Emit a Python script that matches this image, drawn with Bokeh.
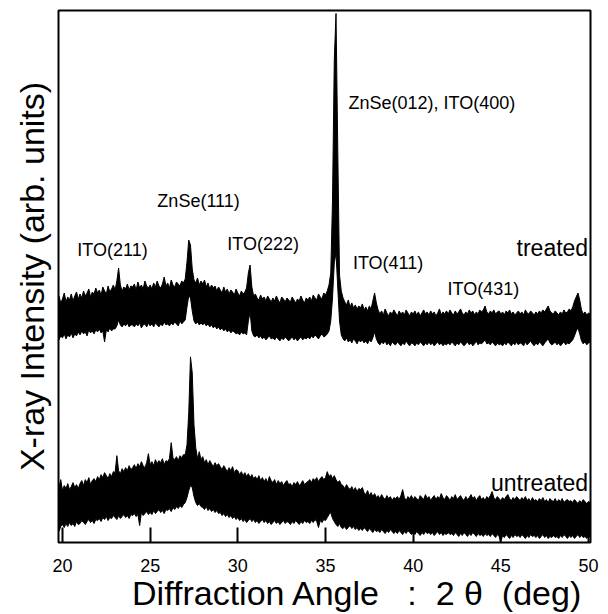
import numpy as np
from bokeh.plotting import figure
from bokeh.models import Range1d, FixedTicker, Label, ColumnDataSource
from bokeh.embed import file_html
from bokeh.resources import INLINE

# Scan grid (2theta, deg): uniform 0.1 deg steps from 19.8 to 50.1
SCAN_START = 19.8
SCAN_STEP = 0.1
N_POINTS = 304

# Intensities (arb. units), upper and lower edges of the noisy traces
treated_upper = [
    247, 240,
    244, 250, 241, 246, 243, 249, 242, 247, 251, 244,
    249, 245, 252, 247, 250, 254, 246, 251, 249, 255,
    250, 253, 248, 256, 252, 249, 257, 251, 254, 258,
    253, 262, 275, 258, 252, 256, 254, 259, 253, 257,
    256, 259, 253, 261, 255, 258, 254, 262, 257, 255,
    258, 254, 260, 256, 262, 257, 255, 259, 266, 257,
    260, 255, 263, 258, 256, 261, 259, 257, 262, 260,
    264, 281, 303, 298, 274, 263, 260, 265, 258, 262,
    259, 263, 256, 260, 254, 258, 255, 257, 252, 256,
    253, 250, 256, 251, 254, 249, 253, 251, 248, 254,
    250, 247, 252, 249, 251, 255, 270, 278, 256, 247,
    249, 245, 243, 248, 244, 246, 242, 247, 244, 241,
    245, 242, 247, 243, 240, 246, 244, 241, 245, 243,
    241, 246, 243, 240, 244, 242, 247, 243, 240, 245,
    243, 246, 242, 248, 245, 243, 249, 246, 244, 250,
    248, 252, 258, 270, 343, 483, 530, 393, 268, 252,
    245, 241, 238, 243, 236, 240, 235, 238, 234, 237,
    235, 239, 233, 236, 232, 237, 234, 242, 250, 240,
    233, 229, 232, 228, 234, 230, 227, 231, 229, 233,
    230, 227, 232, 229, 231, 228, 233, 230, 227, 231,
    229, 232, 228, 231, 227, 230, 233, 229, 231, 228,
    232, 229, 231, 227, 230, 234, 228, 231, 229, 232,
    229, 233, 230, 228, 232, 229, 231, 234, 230, 228,
    231, 229, 233, 230, 232, 228, 231, 229, 233, 231,
    233, 237, 231, 229, 232, 230, 233, 229, 231, 232,
    229, 231, 228, 232, 230, 233, 229, 231, 228, 230,
    232, 229, 231, 228, 233, 230, 229, 232, 230, 228,
    231, 229, 232, 230, 233, 231, 234, 237, 232, 230,
    229, 232, 230, 228, 231, 229, 233, 230, 231, 234,
    232, 236, 242, 246, 250, 243, 233, 229, 231, 228,
    230, 229,
]
treated_lower = [
    203, 207,
    205, 209, 204, 208, 206, 210, 205, 209, 207, 211,
    208, 212, 209, 211, 207, 213, 210, 212, 209, 213,
    211, 214, 210, 212, 201, 213, 211, 215, 212, 214,
    214, 217, 223, 218, 216, 219, 217, 220, 216, 218,
    218, 216, 219, 217, 220, 215, 218, 219, 216, 220,
    217, 219, 216, 220, 218, 216, 219, 217, 221, 218,
    219, 217, 220, 218, 221, 219, 217, 222, 219, 221,
    223, 236, 247, 245, 232, 222, 219, 221, 218, 220,
    218, 220, 217, 219, 216, 218, 215, 217, 214, 216,
    213, 215, 212, 214, 211, 213, 210, 212, 211, 209,
    210, 208, 211, 209, 210, 208, 222, 231, 212, 207,
    206, 208, 205, 207, 204, 206, 203, 205, 207, 204,
    205, 203, 206, 204, 202, 205, 203, 206, 204, 202,
    204, 206, 203, 205, 202, 204, 206, 203, 205, 204,
    206, 204, 207, 205, 208, 206, 204, 207, 209, 206,
    207, 209, 212, 222, 245, 280, 290, 255, 222, 208,
    204, 202, 205, 201, 203, 200, 204, 202, 199, 203,
    201, 203, 200, 202, 199, 203, 201, 205, 211, 204,
    200, 198, 201, 199, 202, 198, 200, 197, 201, 199,
    198, 201, 199, 197, 200, 198, 202, 199, 197, 200,
    199, 197, 200, 198, 201, 199, 197, 200, 198, 201,
    198, 200, 197, 199, 201, 198, 200, 197, 199, 198,
    200, 198, 201, 199, 197, 200, 198, 201, 199, 197,
    199, 201, 198, 200, 197, 199, 202, 198, 200, 199,
    201, 203, 199, 200, 198, 201, 199, 197, 200, 198,
    199, 197, 200, 198, 201, 199, 197, 200, 198, 201,
    198, 200, 199, 197, 201, 198, 200, 202, 199, 197,
    200, 198, 201, 199, 197, 200, 202, 204, 200, 198,
    199, 201, 198, 200, 197, 199, 201, 198, 200, 199,
    201, 203, 207, 212, 215, 209, 202, 199, 201, 198,
    200, 201,
]
untreated_upper = [
    55, 63,
    52, 57, 54, 59, 53, 56, 60, 55, 58, 54,
    59, 62, 57, 63, 60, 65, 58, 62, 64, 61,
    66, 63, 68, 65, 70, 67, 64, 69, 66, 71,
    70, 87, 72, 69, 74, 71, 75, 72, 77, 73,
    75, 78, 74, 79, 76, 81, 77, 75, 80, 89,
    78, 81, 77, 83, 79, 82, 80, 84, 78, 82,
    81, 84, 100, 85, 83, 86, 82, 87, 85, 88,
    88, 98, 130, 186, 170, 118, 95, 84, 91, 83,
    86, 80, 83, 78, 82, 79, 76, 80, 77, 79,
    76, 73, 77, 74, 71, 75, 72, 76, 70, 73,
    72, 68, 71, 67, 70, 66, 69, 65, 68, 64,
    66, 63, 67, 62, 65, 61, 64, 60, 66, 62,
    60, 63, 58, 62, 59, 61, 57, 60, 62, 58,
    59, 56, 60, 58, 61, 57, 59, 62, 58, 60,
    61, 63, 60, 64, 62, 65, 61, 64, 66, 63,
    65, 71, 66, 68, 64, 67, 63, 60, 62, 58,
    57, 54, 58, 55, 53, 56, 52, 55, 51, 54,
    53, 55, 50, 48, 52, 47, 50, 46, 49, 45,
    47, 44, 48, 45, 43, 47, 44, 46, 42, 45,
    44, 46, 43, 47, 53, 45, 42, 46, 44, 47,
    43, 46, 44, 42, 47, 45, 43, 48, 44, 46,
    42, 45, 47, 43, 46, 44, 49, 45, 43, 47,
    45, 42, 46, 44, 48, 43, 45, 47, 44, 42,
    46, 43, 45, 48, 44, 46, 42, 45, 47, 43,
    45, 42, 46, 44, 47, 51, 45, 43, 46, 44,
    42, 45, 43, 46, 48, 44, 42, 45, 43, 46,
    44, 42, 45, 43, 46, 42, 44, 41, 45, 42,
    43, 41, 44, 42, 45, 41, 43, 40, 44, 42,
    41, 44, 40, 43, 41, 44, 40, 42, 43, 41,
    42, 40, 43, 41, 39, 42, 40, 43, 41, 39,
    41, 40,
]
untreated_lower = [
    11, 16,
    18, 15, 19, 16, 20, 17, 19, 16, 21, 18,
    19, 22, 20, 18, 21, 23, 20, 22, 19, 23,
    22, 24, 21, 25, 23, 26, 22, 25, 24, 27,
    25, 23, 27, 24, 26, 28, 25, 27, 24, 28,
    27, 29, 26, 28, 17, 30, 27, 29, 31, 28,
    30, 28, 32, 29, 31, 33, 30, 32, 29, 33,
    32, 34, 31, 35, 33, 36, 34, 37, 35, 38,
    40, 45, 52, 57, 55, 46, 40, 37, 39, 36,
    35, 33, 36, 32, 34, 31, 33, 30, 32, 29,
    30, 27, 29, 26, 28, 25, 27, 24, 26, 23,
    25, 22, 24, 21, 23, 20, 22, 24, 21, 23,
    20, 22, 19, 21, 23, 20, 22, 19, 21, 18,
    20, 22, 19, 21, 18, 20, 22, 19, 21, 20,
    18, 21, 19, 22, 20, 18, 21, 19, 22, 20,
    21, 19, 22, 20, 23, 21, 15, 22, 20, 23,
    22, 25, 28, 30, 24, 21, 18, 16, 19, 15,
    14, 16, 13, 15, 17, 14, 16, 13, 15, 12,
    14, 12, 15, 13, 11, 14, 12, 10, 13, 11,
    12, 10, 13, 11, 9, 12, 10, 13, 11, 9,
    11, 9, 12, 10, 8, 11, 9, 12, 10, 8,
    10, 8, 11, 9, 7, 10, 8, 11, 9, 10,
    8, 10, 7, 9, 11, 8, 10, 7, 9, 8,
    10, 8, 9, 7, 10, 8, 6, 9, 7, 10,
    8, 6, 9, 7, 10, 8, 6, 9, 7, 8,
    6, 9, 7, 8, 6, 9, 7, 5, 8, 6,
    1, 7, 5, 8, 6, 4, 7, 5, 8, 6,
    7, 5, 8, 6, 4, 7, 5, 8, 6, 7,
    5, 7, 4, 6, 8, 5, 7, 4, 6, 5,
    7, 5, 6, 4, 7, 5, 8, 6, 4, 7,
    5, 7, 4, 6, 8, 5, 7, 5, 6, 4,
    6, 5,
]

x_ticks = [20, 25, 30, 35, 40, 45, 50]

# Peak annotations: label, 2theta position, intensity of label baseline
peak_labels = ["ITO(211)", "ZnSe(111)", "ITO(222)", "ZnSe(012), ITO(400)", "ITO(411)", "ITO(431)"]
peak_label_x = [22.85, 27.76, 31.44, 41.07, 38.57, 44.0]
peak_label_y = [293, 342, 299, 440, 280, 254]

sample_labels = ["treated", "untreated"]
sample_label_x = [49.98, 49.98]
sample_label_y = [295, 60]

FONT = "Liberation Sans"
NB = "\u00a0"

# x title; leading no-break spaces push it right of the frame centre, as in the reference
x_title = NB * 7 + "Diffraction Angle" + NB + NB + " :" + NB + " 2" + NB + "\u03b8" + NB + " (deg)"
y_title = "X-ray Intensity (arb. units)"

two_theta = np.round(SCAN_START + SCAN_STEP * np.arange(N_POINTS), 2)

p = figure(width=608, height=614, output_backend="svg", toolbar_location=None,
           x_range=Range1d(19.772, 50.114), y_range=Range1d(0, 533),
           min_border_left=58, min_border_right=18, min_border_top=10, min_border_bottom=71)
p.background_fill_color = "white"
p.border_fill_color = "white"
p.outline_line_color = "black"
p.outline_line_width = 2
p.grid.visible = False

for up, lo in [(treated_upper, treated_lower), (untreated_upper, untreated_lower)]:
    src = ColumnDataSource(dict(x=two_theta, up=up, lo=lo))
    p.varea(x="x", y1="lo", y2="up", source=src, fill_color="black")
    p.line(x="x", y="up", source=src, line_color="black", line_width=1)
    p.line(x="x", y="lo", source=src, line_color="black", line_width=1)

xa = p.xaxis[0]
xa.ticker = FixedTicker(ticks=x_ticks)
xa.axis_line_color = None
xa.major_tick_in = 15
xa.major_tick_out = 0
xa.major_tick_line_width = 2
xa.major_tick_line_color = "black"
xa.minor_tick_line_color = None
xa.major_label_text_font = FONT
xa.major_label_text_font_size = "18px"
xa.major_label_text_color = "black"
xa.major_label_standoff = 16
xa.axis_label = x_title
xa.axis_label_text_font = FONT
xa.axis_label_text_font_size = "34px"
xa.axis_label_text_font_style = "normal"
xa.axis_label_text_color = "black"
xa.axis_label_standoff = -1

ya = p.yaxis[0]
ya.ticker = FixedTicker(ticks=[])
ya.axis_line_color = None
ya.major_tick_in = 0
ya.major_tick_out = 0
ya.minor_tick_line_color = None
ya.major_label_text_font_size = "0px"
ya.axis_label = y_title
ya.axis_label_text_font = FONT
ya.axis_label_text_font_size = "34px"
ya.axis_label_text_font_style = "normal"
ya.axis_label_text_color = "black"
ya.axis_label_standoff = 8

for t, x, y in zip(peak_labels, peak_label_x, peak_label_y):
    p.add_layout(Label(x=x, y=y, text=t, text_font=FONT, text_font_size="18px",
                       text_align="center", text_baseline="alphabetic", text_color="black"))
for t, x, y in zip(sample_labels, sample_label_x, sample_label_y):
    p.add_layout(Label(x=x, y=y, text=t, text_font=FONT, text_font_size="23px",
                       text_align="right", text_baseline="alphabetic", text_color="black"))

open("out.html", "w").write(file_html(p, INLINE))
